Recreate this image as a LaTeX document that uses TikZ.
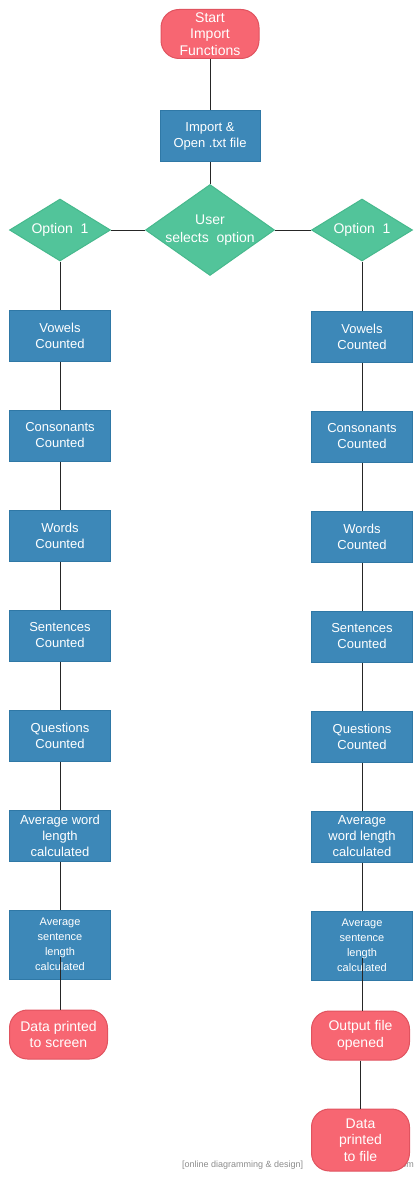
\documentclass[tikz,border=0pt]{standalone}
\usepackage{fontspec}
\setmainfont{Liberation Sans}
\usepackage{xcolor}
\usetikzlibrary{positioning,shapes.geometric,calc}

\definecolor{procblue}{HTML}{3D88B8}
\definecolor{procedge}{HTML}{2F78A6}
\definecolor{termred}{HTML}{F76672}
\definecolor{termedge}{HTML}{E0535F}
\definecolor{decgreen}{HTML}{52C49A}
\definecolor{decedge}{HTML}{47B98D}

\begin{document}
\begin{tikzpicture}[
  x=1pt, y=1pt,
  node distance=48pt and 34pt,
  box/.style={rectangle, draw=procedge, fill=procblue, line width=1pt, text=white, minimum width=101pt, minimum height=51pt, align=center, inner sep=1pt, font=\fontsize{13}{16}\selectfont},
  smallbox/.style={box, minimum height=69pt, font=\fontsize{11}{15}\selectfont},
  termbox/.style={rectangle, rounded corners=18pt, draw=termedge, fill=termred, line width=1pt, text=white, minimum width=98pt, minimum height=49pt, align=center, inner sep=1pt, font=\fontsize{14}{16.5}\selectfont},
  decbox/.style={diamond, shape aspect=1.6, draw=decedge, fill=decgreen, line width=1pt, text=white, minimum width=101pt, minimum height=62pt, align=center, inner sep=0pt, font=\fontsize{14}{18}\selectfont},
  ln/.style={draw=black!85, line width=0.8pt}
]
\useasboundingbox (0,0) rectangle (420,-1180);

% Top
\node[termbox] (start) at (210,-34) {Start\\Import\\Functions};
\node[box, minimum width=100pt, below=51pt of start] (import) {Import \&\\Open .txt file};
\node[decbox, shape aspect=1.42, inner sep=-3pt, minimum width=129pt, minimum height=91pt, below=22pt of import] (select) {User\\selects\ \ option};

% Options
\node[decbox, left=34pt of select] (optL) {Option\ \ 1};
\node[decbox, right=36pt of select] (optR) {Option\ \ 1};

% Left column
\node[box, below=48pt of optL] (vowL) {Vowels\\Counted};
\node[box, below=of vowL] (consL) {Consonants\\Counted};
\node[box, below=of consL] (wordL) {Words\\Counted};
\node[box, below=of wordL] (sentL) {Sentences\\Counted};
\node[box, below=of sentL] (questL) {Questions\\Counted};
\node[box, below=of questL] (avgwL) {Average word\\length\\calculated};
\node[smallbox, below=of avgwL] (avgsL) {Average\\sentence\\length\\calculated};
\node[termbox, below=30pt of avgsL, xshift=-1.5pt] (screenL) {Data printed\\to screen};

% Right column
\node[box, below=49pt of optR] (vowR) {Vowels\\Counted};
\node[box, below=of vowR] (consR) {Consonants\\Counted};
\node[box, below=of consR] (wordR) {Words\\Counted};
\node[box, below=of wordR] (sentR) {Sentences\\Counted};
\node[box, below=of sentR] (questR) {Questions\\Counted};
\node[box, below=of questR] (avgwR) {Average\\word length\\calculated};
\node[smallbox, below=of avgwR] (avgsR) {Average\\sentence\\length\\calculated};
\node[termbox, below=30pt of avgsR, xshift=-1.5pt] (openR) {Output file\\opened};

% Watermark
\node[anchor=west, text=black!45, font=\fontsize{9}{10}\selectfont, inner sep=0pt] (mark) at (182,-1165) {[online diagramming \& design]};
\node[anchor=east, text=black!45, font=\fontsize{9}{10}\selectfont, inner sep=0pt] (site) at (414,-1165) {creately.com};

\node[termbox, minimum height=62pt, below=48pt of openR] (fileR) {Data\\printed\\to file};

% Connectors
\draw[ln] (start) -- (import);
\draw[ln] (import) -- (select);
\draw[ln] (select) -- (optL);
\draw[ln] (select) -- (optR);
\draw[ln] (optL) -- (vowL);
\draw[ln] (vowL) -- (consL);
\draw[ln] (consL) -- (wordL);
\draw[ln] (wordL) -- (sentL);
\draw[ln] (sentL) -- (questL);
\draw[ln] (questL) -- (avgwL);
\draw[ln] (avgwL) -- (avgsL);
\draw[ln] ($(avgsL.center)+(0,-12)$) -- (avgsL.center |- screenL.north);
\draw[ln] (optR) -- (vowR);
\draw[ln] (vowR) -- (consR);
\draw[ln] (consR) -- (wordR);
\draw[ln] (wordR) -- (sentR);
\draw[ln] (sentR) -- (questR);
\draw[ln] (questR) -- (avgwR);
\draw[ln] (avgwR) -- (avgsR);
\draw[ln] ($(avgsR.center)+(0,-12)$) -- (avgsR.center |- openR.north);
\draw[ln] (openR) -- (fileR);

\end{tikzpicture}
\end{document}
